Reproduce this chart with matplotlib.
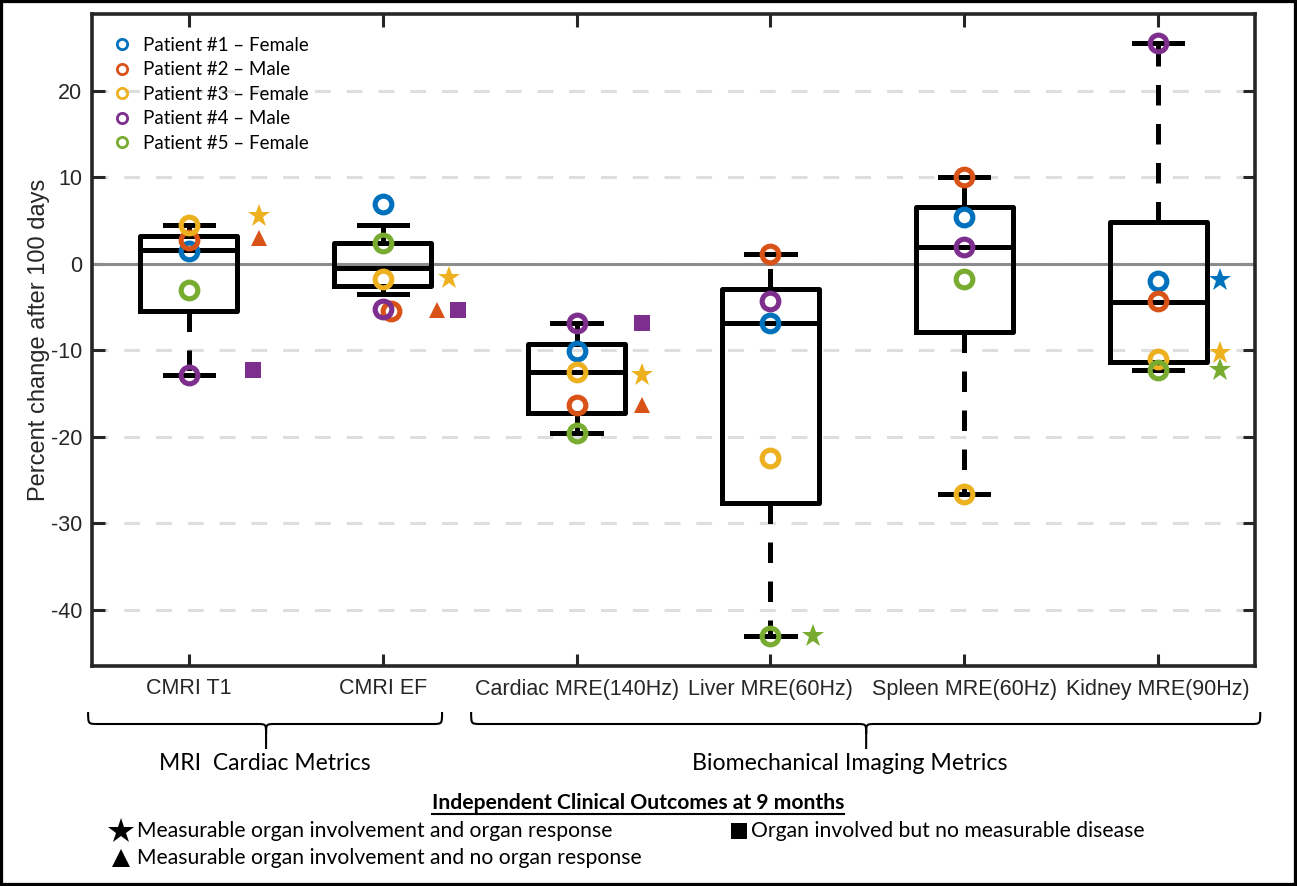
import matplotlib
matplotlib.use('Agg')
import matplotlib.pyplot as plt
from matplotlib.lines import Line2D
from matplotlib.path import Path
from matplotlib.patches import PathPatch, Rectangle
from matplotlib.transforms import blended_transform_factory

plt.rcParams['axes.unicode_minus'] = False

categories = ['CMRI T1', 'CMRI EF', 'Cardiac MRE(140Hz)', 'Liver MRE(60Hz)',
              'Spleen MRE(60Hz)', 'Kidney MRE(90Hz)']

# percent change per patient, one value per category
patient_labels = ['Patient #1 \u2013 Female', 'Patient #2 \u2013 Male', 'Patient #3 \u2013 Female',
                  'Patient #4 \u2013 Male', 'Patient #5 \u2013 Female']
p1 = [1.5, 6.9, -10.1, -6.8, 5.4, -2.0]
p2 = [2.8, -5.4, -16.3, 1.1, 10.1, -4.3]
p3 = [4.5, -1.7, -12.5, -22.4, -26.6, -11.0]
p4 = [-12.8, -5.2, -6.8, -4.3, 1.9, 25.5]
p5 = [-3.0, 2.4, -19.5, -43.0, -1.7, -12.3]
patients = [p1, p2, p3, p4, p5]
# small horizontal nudge used in the original for overlapping circles
p_shift = [[0] * 6, [0, 0.04, 0, 0, 0, 0], [0] * 6, [0] * 6, [0] * 6]

# box statistics as drawn
box_q1 = [-5.5, -2.6, -17.2, -27.6, -7.9, -11.4]
box_med = [1.6, -0.5, -12.5, -6.8, 1.9, -4.4]
box_q3 = [3.2, 2.4, -9.3, -2.9, 6.6, 4.8]
whis_lo = [-12.8, -3.5, -19.5, -43.0, -26.6, -12.3]
whis_hi = [4.5, 4.5, -6.8, 1.1, 10.1, 25.5]

# clinical outcome markers: category index, offset, value, patient
star_cat = [0, 1, 2, 3, 5, 5, 5]
star_dx = [0.36, 0.34, 0.34, 0.22, 0.32, 0.32, 0.32]
star_val = [5.5, -1.65, -12.9, -43.0, -1.9, -10.3, -12.3]
star_pat = [3, 3, 3, 5, 1, 3, 5]
tri_cat = [0, 1, 2]
tri_dx = [0.36, 0.28, 0.34]
tri_val = [3.0, -5.3, -16.3]
tri_pat = [2, 2, 2]
sq_cat = [0, 1, 2]
sq_dx = [0.33, 0.39, 0.34]
sq_val = [-12.25, -5.3, -6.85]
sq_pat = [4, 4, 4]

colors = ['#0072BD', '#D95319', '#EDB120', '#7E2F8E', '#77AC30']
dark = '#262626'

W, H = 1297, 886
fig = plt.figure(figsize=(W / 100, H / 100), dpi=100)
ax = fig.add_axes([92 / W, 1 - 666 / H, (1255 - 92) / W, (666 - 14) / H])

pos = list(range(1, len(categories) + 1))
stats = [dict(q1=a, med=b, q3=c, whislo=d, whishi=e, fliers=[])
         for a, b, c, d, e in zip(box_q1, box_med, box_q3, whis_lo, whis_hi)]
lw = 3.6
ax.bxp(stats, positions=pos, widths=0.5, capwidths=0.25, showfliers=False,
       boxprops=dict(color='k', lw=lw, solid_joinstyle='round'),
       medianprops=dict(color='k', lw=lw),
       whiskerprops=dict(color='k', lw=lw, linestyle=(0, (4.1, 3.7)), dash_capstyle='butt'),
       capprops=dict(color='k', lw=lw))

for i, vals in enumerate(patients):
    xs = [p + s for p, s in zip(pos, p_shift[i])]
    ax.plot(xs, vals, 'o', ls='none', mfc='none', mec=colors[i], ms=12, mew=3.7,
            zorder=4, label=patient_labels[i])

for c, dx, v, p in zip(star_cat, star_dx, star_val, star_pat):
    ax.plot(pos[c] + dx, v, '*', color=colors[p - 1], ms=17, mew=0, zorder=4)
for c, dx, v, p in zip(tri_cat, tri_dx, tri_val, tri_pat):
    ax.plot(pos[c] + dx, v, '^', color=colors[p - 1], ms=12, mew=0, zorder=4)
for c, dx, v, p in zip(sq_cat, sq_dx, sq_val, sq_pat):
    ax.plot(pos[c] + dx, v, 's', color=colors[p - 1], ms=12, mew=0, zorder=4)

ax.axhline(0, color='#8c8c8c', lw=2.2, zorder=1.5)
ax.set_xlim(0.5, 6.5)
ax.set_ylim(-46.5, 28.9)
ax.set_yticks(range(-40, 30, 10))
ax.set_xticks(pos)
ax.set_xticklabels(categories)
ax.yaxis.grid(True, color='#dedede', lw=2.2, linestyle=(0, (5.2, 5.2)))
ax.set_axisbelow(True)
for s in ax.spines.values():
    s.set_linewidth(2.6)
    s.set_color(dark)
ax.tick_params(direction='in', length=9, width=2.2, color=dark, labelcolor=dark,
               top=True, right=True, labelsize=15.5)
ax.tick_params(axis='x', pad=9)
ax.tick_params(axis='y', pad=7)
for t in ax.get_xticklabels() + ax.get_yticklabels():
    t.set_fontfamily('Liberation Sans')
ax.set_ylabel('Percent change after 100 days', fontsize=17, color=dark,
              fontfamily='Liberation Sans')
ax.yaxis.set_label_coords(-0.036, 0.5)

handles = [Line2D([], [], ls='none', marker='o', mfc='none', mec=c, ms=7.4, mew=2)
           for c in colors]
ax.legend(handles, patient_labels, loc='upper left', bbox_to_anchor=(0.019, 0.965),
          frameon=False, borderaxespad=0, borderpad=0, handlelength=0.8,
          handletextpad=0.75, labelspacing=0.4, prop=dict(family='Lato', size=13.5))

# braces under the tick labels
ytr = blended_transform_factory(ax.transData, fig.transFigure)


def brace(x0, x1, xc):
    yt, ym, yb = 1 - 712 / H, 1 - 724 / H, 1 - 749 / H
    r = 0.05
    d = 10 / H
    verts = [(x0, yt), (x0, ym), (x0, ym), (x0 + r, ym), (xc - r, ym),
             (xc, ym), (xc, ym), (xc, ym - d), (xc, yb),
             (xc, ym - d), (xc, ym), (xc, ym), (xc + r, ym), (x1 - r, ym),
             (x1, ym), (x1, ym), (x1, yt)]
    codes = [Path.MOVETO, Path.CURVE4, Path.CURVE4, Path.CURVE4, Path.LINETO,
             Path.CURVE4, Path.CURVE4, Path.CURVE4, Path.LINETO,
             Path.MOVETO, Path.CURVE4, Path.CURVE4, Path.CURVE4, Path.LINETO,
             Path.CURVE4, Path.CURVE4, Path.CURVE4]
    fig.add_artist(PathPatch(Path(verts, codes), fill=False, lw=1.5, ec='k',
                             transform=ytr, clip_on=False))


brace(0.48, 2.306, 1.398)
brace(2.456, 6.527, 4.494)

tf = dict(family='Lato', color='k')
fig.text(265 / W, 1 - 764 / H, 'MRI  Cardiac Metrics', ha='center', va='center', size=16.5, **tf)
fig.text(850 / W, 1 - 764 / H, 'Biomechanical Imaging Metrics', ha='center', va='center',
         size=16.7, **tf)
title = fig.text(638 / W, 1 - 803 / H, 'Independent Clinical Outcomes at 9 months',
                 ha='center', va='center', size=15.2, weight='bold', **tf)
fig.text(137 / W, 1 - 831 / H, 'Measurable organ involvement and organ response',
         ha='left', va='center', size=15.2, **tf)
fig.text(137 / W, 1 - 858 / H, 'Measurable organ involvement and no organ response',
         ha='left', va='center', size=15.2, **tf)
fig.text(751 / W, 1 - 831 / H, 'Organ involved but no measurable disease',
         ha='left', va='center', size=15.2, **tf)
fig.add_artist(Line2D([121 / W], [1 - 831 / H], marker='*', color='k', ms=19, mew=0,
                      transform=fig.transFigure))
fig.add_artist(Line2D([121 / W], [1 - 858 / H], marker='^', color='k', ms=13, mew=0,
                      transform=fig.transFigure))
fig.add_artist(Line2D([739 / W], [1 - 831 / H], marker='s', color='k', ms=12, mew=0,
                      transform=fig.transFigure))

fig.canvas.draw()
bb = title.get_window_extent().transformed(fig.transFigure.inverted())
fig.add_artist(Line2D([bb.x0, bb.x1], [1 - 814 / H] * 2, color='k', lw=1.5,
                      transform=fig.transFigure))

fig.add_artist(Rectangle((0, 0), 1, 1, fill=False, ec='k', lw=4.5, transform=fig.transFigure))

fig.savefig('out.png', dpi=100)
